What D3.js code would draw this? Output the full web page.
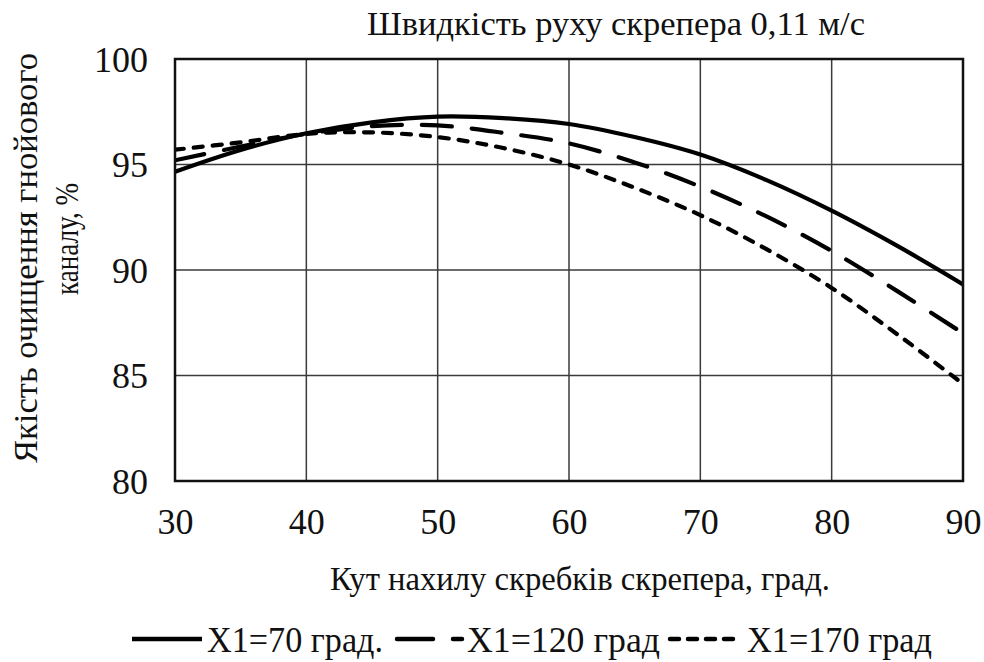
<!DOCTYPE html>
<html>
<head>
<meta charset="utf-8">
<script src="https://cdn.jsdelivr.net/npm/d3@7"></script>
</head>
<body style="margin:0;background:#fff">
<svg id="chart" width="984" height="662" style="display:block"></svg>
<script>
// Scraper blade angle, degrees
const angles = [30, 35, 40, 45, 50, 55, 60, 65, 70, 75, 80, 85, 90];
// Cleaning quality of the manure channel, % — one array per X1 setting
const q70  = [94.66, 95.69, 96.48, 97.0, 97.27, 97.2, 96.92, 96.3, 95.47, 94.27, 92.81, 91.14, 89.32];
const q120 = [95.2, 95.85, 96.45, 96.82, 96.85, 96.5, 96.0, 95.1, 93.95, 92.55, 90.9, 89.0, 87.0];
const q170 = [95.7, 96.05, 96.45, 96.52, 96.3, 95.78, 95.0, 93.9, 92.6, 91.0, 89.15, 86.95, 84.6];

const xTicks = [30, 40, 50, 60, 70, 80, 90];
const yTicks = [80, 85, 90, 95, 100];

const seriesNames = ["X1=70 град.", "X1=120 град", "X1=170 град"];
const titleText = "Швидкість руху скрепера 0,11 м/с";
const xLabel = "Кут нахилу скребків скрепера, град.";
const yLabel1 = "Якість очищення гнойового";
const yLabel2 = "каналу, %";

const FONT = "Liberation Serif";

const series = [
  { name: seriesNames[0], values: q70,  dash: null },
  { name: seriesNames[1], values: q120, dash: "30,20" },
  { name: seriesNames[2], values: q170, dash: "9,10" }
];

const svg = d3.select("#chart");
const plot = { left: 175, right: 963, top: 59, bottom: 481 };

const x = d3.scaleLinear().domain([30, 90]).range([plot.left, plot.right]);
const y = d3.scaleLinear().domain([80, 100]).range([plot.bottom, plot.top]);

// grid
const grid = svg.append("g");
grid.selectAll("line.v").data(xTicks.slice(1, -1)).join("line")
  .attr("x1", d => x(d)).attr("x2", d => x(d))
  .attr("y1", plot.top).attr("y2", plot.bottom)
  .attr("stroke", "#3a3a3a").attr("stroke-width", 1.5);
grid.selectAll("line.h").data(yTicks.slice(1, -1)).join("line")
  .attr("x1", plot.left).attr("x2", plot.right)
  .attr("y1", d => y(d)).attr("y2", d => y(d))
  .attr("stroke", "#3a3a3a").attr("stroke-width", 1.5);

// axes (tick labels only; the frame is drawn separately)
const xAxis = d3.axisBottom(x).tickValues(xTicks).tickSize(0).tickPadding(0);
const gx = svg.append("g").attr("transform", `translate(0,${plot.bottom})`).call(xAxis)
  .attr("font-family", FONT).attr("font-size", 36);
gx.select(".domain").remove();
gx.selectAll("text").attr("dy", null).attr("y", 53).attr("fill", "#111");

const yAxis = d3.axisLeft(y).tickValues(yTicks).tickSize(0).tickPadding(0);
const gy = svg.append("g").attr("transform", `translate(148,0)`).call(yAxis)
  .attr("font-family", FONT).attr("font-size", 36);
gy.select(".domain").remove();
gy.selectAll("text").attr("x", 0).attr("dy", "0.34em").attr("fill", "#111");

// curves
const line = d3.line()
  .x((d, i) => x(angles[i]))
  .y(d => y(d))
  .curve(d3.curveCatmullRom.alpha(0.5));

svg.append("clipPath").attr("id", "plotClip")
  .append("rect").attr("x", plot.left).attr("y", plot.top)
  .attr("width", plot.right - plot.left).attr("height", plot.bottom - plot.top);

svg.append("g").attr("clip-path", "url(#plotClip)")
  .selectAll("path").data(series).join("path")
  .attr("d", d => line(d.values))
  .attr("fill", "none")
  .attr("stroke", "#000")
  .attr("stroke-width", 4.2)
  .attr("stroke-linecap", d => d.dash ? "round" : "butt")
  .attr("stroke-dasharray", d => d.dash);

// frame
svg.append("rect")
  .attr("x", plot.left).attr("y", plot.top)
  .attr("width", plot.right - plot.left).attr("height", plot.bottom - plot.top)
  .attr("fill", "none").attr("stroke", "#111").attr("stroke-width", 2.5);

function label(sel, size, len) {
  sel.attr("font-family", FONT).attr("font-size", size).attr("fill", "#111");
  if (len) sel.attr("textLength", len).attr("lengthAdjust", "spacingAndGlyphs");
  return sel;
}

// title
label(svg.append("text").attr("x", 616).attr("y", 35)
  .attr("text-anchor", "middle").text(titleText), 33, 498);

// x label
label(svg.append("text").attr("x", 580).attr("y", 590)
  .attr("text-anchor", "middle").text(xLabel), 33, 500);

// y label (two lines)
label(svg.append("text").attr("transform", "translate(37,258) rotate(-90)")
  .attr("text-anchor", "middle").text(yLabel1), 34, 410);
label(svg.append("text").attr("transform", "translate(78,239) rotate(-90)")
  .attr("text-anchor", "middle").text(yLabel2), 34, 112);

// legend
const legend = [
  { s: series[0], x1: 132, x2: 202, tx: 207, tw: 176 },
  { s: series[1], x1: 397, x2: 462, tx: 467, tw: 193 },
  { s: series[2], x1: 670, x2: 740, tx: 747, tw: 185 }
];
const lg = svg.append("g");
lg.selectAll("line").data(legend).join("line")
  .attr("x1", d => d.x1).attr("x2", d => d.x2)
  .attr("y1", 639).attr("y2", 639)
  .attr("stroke", "#000").attr("stroke-width", 4.5)
  .attr("stroke-linecap", d => d.s.dash ? "round" : "butt")
  .attr("stroke-dasharray", d => d.s.dash === "30,20" ? "36,20" : (d.s.dash ? "9,9" : null));
label(lg.selectAll("text").data(legend).join("text")
  .attr("x", d => d.tx).attr("y", 652)
  .attr("textLength", d => d.tw).attr("lengthAdjust", "spacingAndGlyphs")
  .text(d => d.s.name), 36);
</script>
</body>
</html>
